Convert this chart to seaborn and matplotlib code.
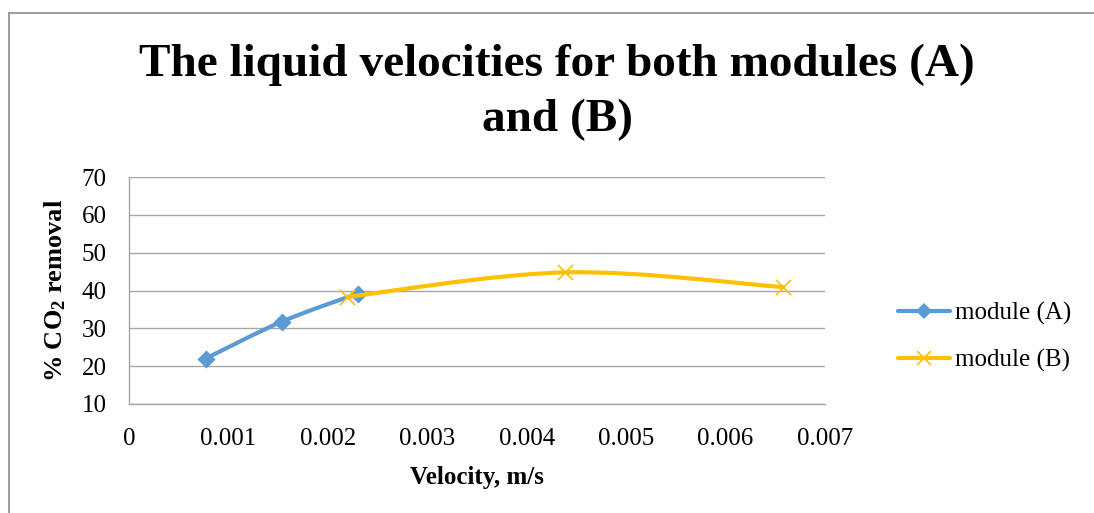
import numpy as np
import pandas as pd
import seaborn as sns
import matplotlib
matplotlib.use("Agg")
import matplotlib.pyplot as plt
from matplotlib.path import Path
from matplotlib.patches import PathPatch
from matplotlib.lines import Line2D

# ---- data ----
velocity_a = [0.00077, 0.00154, 0.00230]
removal_a = [22.0, 31.8, 39.2]
velocity_b = [0.00219, 0.00439, 0.00658]
removal_b = [38.3, 44.8, 40.9]
series_names = ["module (A)", "module (B)"]
x_ticks = [0, 0.001, 0.002, 0.003, 0.004, 0.005, 0.006, 0.007]
x_tick_labels = ["0", "0.001", "0.002", "0.003", "0.004", "0.005", "0.006", "0.007"]
y_ticks = [10, 20, 30, 40, 50, 60, 70]
title_text = "The liquid velocities for both modules (A)\nand (B)"
x_label = "Velocity, m/s"
y_label = r"% CO$_\mathbf{2}$ removal"

sns.set_theme(style="white")
plt.rcParams["font.family"] = ["Liberation Serif", "DejaVu Serif"]
plt.rcParams["mathtext.fontset"] = "custom"
plt.rcParams["mathtext.rm"] = "Liberation Serif"
plt.rcParams["mathtext.bf"] = "Liberation Serif:bold"
plt.rcParams["mathtext.it"] = "Liberation Serif:italic"
plt.rcParams["text.color"] = "black"
plt.rcParams["axes.labelcolor"] = "black"
plt.rcParams["xtick.color"] = "black"
plt.rcParams["ytick.color"] = "black"

blue = "#5B9BD5"
gold = "#FFC000"
grid_c = "#A6A6A6"

fig = plt.figure(figsize=(10.94, 5.13), dpi=100)
ax = fig.add_axes([129 / 1094, 1 - 404 / 513, 696 / 1094, 227 / 513])


def smooth_path(x, y):
    pts = np.column_stack([x, y]).astype(float)
    n = len(pts)
    verts = [pts[0]]
    codes = [Path.MOVETO]
    for i in range(n - 1):
        p0 = pts[i - 1] if i > 0 else pts[i]
        p1 = pts[i]
        p2 = pts[i + 1]
        p3 = pts[i + 2] if i + 2 < n else pts[i + 1]
        c1 = p1 + (p2 - p0) / 6.0
        c2 = p2 - (p3 - p1) / 6.0
        verts += [c1, c2, p2]
        codes += [Path.CURVE4] * 3
    return Path(verts, codes)


df_a = pd.DataFrame({"v": velocity_a, "r": removal_a})
df_b = pd.DataFrame({"v": velocity_b, "r": removal_b})

ax.add_patch(PathPatch(smooth_path(df_a["v"], df_a["r"]), facecolor="none",
                       edgecolor=blue, lw=3.0, capstyle="round", zorder=3))
sns.scatterplot(data=df_a, x="v", y="r", marker="D", s=85, color=blue,
                edgecolor=blue, linewidth=0, ax=ax, zorder=4, legend=False)
ax.add_patch(PathPatch(smooth_path(df_b["v"], df_b["r"]), facecolor="none",
                       edgecolor=gold, lw=3.0, capstyle="round", zorder=5))
sns.scatterplot(data=df_b, x="v", y="r", marker="x", s=120, color=gold,
                linewidth=1.2, ax=ax, zorder=6, legend=False)

ax.set_xlim(0, 0.007)
ax.set_ylim(10, 70)
ax.set_xticks(x_ticks)
ax.set_xticklabels(x_tick_labels)
ax.set_yticks(y_ticks)
ax.yaxis.grid(True, color=grid_c, lw=1.0)
ax.xaxis.grid(False)
ax.tick_params(axis="both", length=0, labelsize=18, colors="black")
ax.tick_params(axis="y", pad=16)
ax.tick_params(axis="x", pad=17)
for s in ["top", "right"]:
    ax.spines[s].set_visible(False)
for s in ["left", "bottom"]:
    ax.spines[s].set_color(grid_c)
    ax.spines[s].set_linewidth(1.0)

ax.set_xlabel(x_label, fontsize=18, fontweight="bold", labelpad=12)
ax.set_ylabel(y_label, fontsize=19, fontweight="bold", labelpad=10)

fig.text(557 / 1094, 1 - 92 / 513, title_text, ha="center", va="center",
         fontsize=34, fontweight="bold", linespacing=1.4, color="black")

handles = [
    Line2D([], [], color=blue, lw=3.0, marker="D", markersize=8.5, markeredgewidth=0),
    Line2D([], [], color=gold, lw=3.0, marker="x", markersize=10.5, markeredgewidth=1.2),
]
fig.legend(handles, series_names, loc="center left",
           bbox_to_anchor=(875 / 1094, 1 - 337 / 513), frameon=False,
           fontsize=18, labelspacing=0.95, handlelength=2.1, handletextpad=0.2)

# chart frame
fig.add_artist(Line2D([9 / 1094, 9 / 1094], [0, 1 - 13 / 513],
                      transform=fig.transFigure, color="#8C8C8C", lw=1.2))
fig.add_artist(Line2D([9 / 1094, 1], [1 - 13 / 513, 1 - 13 / 513],
                      transform=fig.transFigure, color="#8C8C8C", lw=1.2))

fig.savefig("out.png", dpi=100)
